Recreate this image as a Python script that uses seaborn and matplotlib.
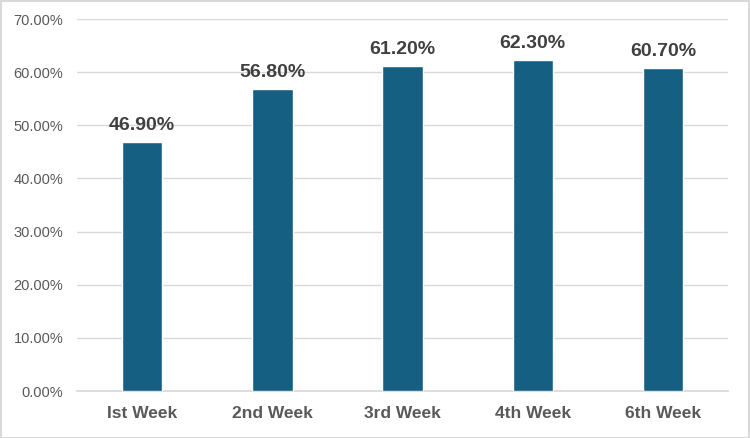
import pandas as pd
import seaborn as sns
import matplotlib.pyplot as plt
from matplotlib.ticker import PercentFormatter

# chart values
weeks = ["Ist Week", "2nd Week", "3rd Week", "4th Week", "6th Week"]
rates = [46.9, 56.8, 61.2, 62.3, 60.7]

df = pd.DataFrame({"week": weeks, "rate": rates})

sns.set_theme(style="white")
plt.rcParams["font.family"] = ["Liberation Sans", "DejaVu Sans"]

fig = plt.figure(figsize=(7.5, 4.38), dpi=100)
ax = fig.add_axes([0.1027, 0.1073, 0.8680, 0.8493])

sns.barplot(data=df, x="week", y="rate", color="#156082", width=0.31,
            saturation=1, ax=ax, zorder=3)

ax.set_ylim(0, 70)
ax.set_yticks(range(0, 71, 10))
ax.yaxis.set_major_formatter(PercentFormatter(decimals=2))
ax.grid(axis="y", color="#d9d9d9", linewidth=1, zorder=0)
ax.set_xlabel("")
ax.set_ylabel("")
for s in ["top", "right", "left"]:
    ax.spines[s].set_visible(False)
ax.spines["bottom"].set_color("#d9d9d9")
ax.tick_params(axis="y", labelsize=10.5, labelcolor="#595959", length=0, pad=10)
ax.tick_params(axis="x", labelsize=12.5, labelcolor="#595959", length=0, pad=11)
for lab in ax.get_xticklabels():
    lab.set_fontweight("bold")

for i, v in enumerate(rates):
    ax.text(i, v + 1.5, f"{v:.2f}%", ha="center", va="bottom",
            fontsize=14, fontweight="bold", color="#404040")

# light frame round the figure
fig.patches.append(plt.Rectangle((0.001, 0.001), 0.998, 0.997, transform=fig.transFigure,
                                 fill=False, edgecolor="#d9d9d9", linewidth=1.5))

fig.savefig("out.png", dpi=100)
